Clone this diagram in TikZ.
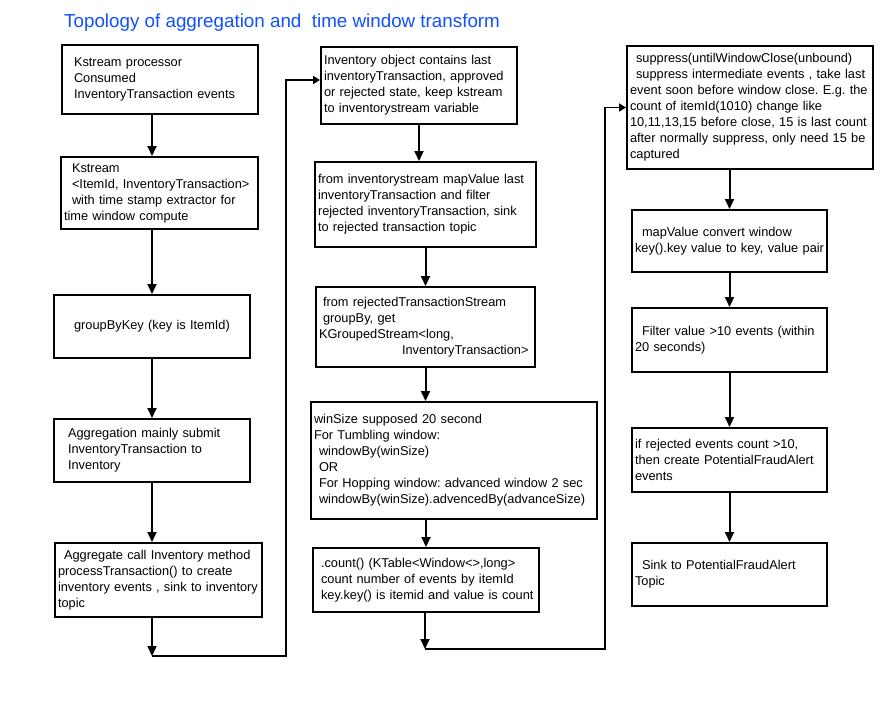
\documentclass[tikz,border=0pt]{standalone}
\usepackage{fontspec}
\setmainfont{Liberation Sans}
\usetikzlibrary{arrows.meta}
\definecolor{titleblue}{RGB}{16,80,255}
\newcommand{\ind}[1]{\hspace*{#1pt}}
\frenchspacing

\begin{document}
\begin{tikzpicture}[x=1pt,y=-1pt,
  box/.style 2 args={draw,line width=2pt,align=left,inner xsep=3pt,inner ysep=0pt,
    text width=#1pt,minimum height=#2pt,font=\fontsize{12.8}{16}\selectfont},
  arr/.style={line width=2pt,-{Triangle[length=10pt,width=9pt]}},
  link/.style={line width=1.8pt,-{Triangle[length=7pt,width=8pt]}}]
\useasboundingbox (0,0) rectangle (887,725);

\node[anchor=base west,inner sep=0pt,text=titleblue,font=\fontsize{18.8}{22}\selectfont] (title) at (64,28)
  {Topology of aggregation and~ time window transform};

% first column
\node[box={190}{69}] (A) at (160,79.5) {\ind{9}Kstream processor\\ \ind{9}Consumed\\ \ind{9}InventoryTransaction events};
\node[box={191}{72}] (B) at (159.5,193) {\ind{8}Kstream\\ \ind{8}<ItemId, InventoryTransaction>\\ \ind{8}with time stamp extractor for\\ time window compute};
\node[box={190}{63},align=center] (C) at (152,326.5) {groupByKey (key is ItemId)};
\node[box={190}{63}] (D) at (152,450.5) {\ind{11}Aggregation mainly submit\\ \ind{11}InventoryTransaction to\\ \ind{11}Inventory};
\node[box={201}{74}] (E) at (158.5,580) {\ind{6}Aggregate call Inventory method\\ processTransaction() to create\\ inventory events , sink to inventory\\ topic};

% second column
\node[box={190}{77}] (F) at (419,85.5) {Inventory object contains last\\ inventoryTransaction, approved\\ or rejected state, keep kstream\\ to inventorystream variable};
\node[box={215}{85}] (G) at (425.5,204.5) {from inventorystream mapValue last\\ inventoryTransaction and filter\\ rejected inventoryTransaction, sink\\ to rejected transaction topic};
\node[box={213}{80}] (H) at (425.5,327) {\ind{4}from rejectedTransactionStream\\ \ind{4}groupBy, get\\ KGroupedStream<long,\\ \ind{83}InventoryTransaction>};
\node[box={280}{117}] (I) at (454,460.5) {winSize supposed 20 second\\ For Tumbling window:\\ \ind{5}windowBy(winSize)\\ \ind{5}OR\\ \ind{5}For Hopping window: advanced window 2 sec\\ \ind{5}windowBy(winSize).advencedBy(advanceSize)};
\node[box={220}{64}] (J) at (426,580) {\ind{5}.count() (KTable<Window<>,long>\\ \ind{5}count number of events by itemId\\ \ind{5}key.key() is itemid and value is count};

% third column
\node[box={240}{123}] (K) at (750,107.5) {\ind{6}suppress(untilWindowClose(unbound)\\ \ind{6}suppress intermediate events , take last\\ event soon before window close. E.g. the\\ count of itemId(1010) change like\\ 10,11,13,15 before close, 15 is last count\\ after normally suppress, only need 15 be\\ captured};
\node[box={189}{62}] (L) at (729.5,241) {\ind{7}mapValue convert window\\ key().key value to key, value pair};
\node[box={189}{64}] (M) at (729.5,340) {\ind{7}Filter value >10 events (within\\ 20 seconds)};
\node[box={189}{64}] (N) at (729.5,460) {if rejected events count >10,\\ then create PotentialFraudAlert\\ events};
\node[box={189}{63}] (O) at (729.5,574.5) {\ind{7}Sink to PotentialFraudAlert\\ Topic};

\coordinate (e1) at (152,656);
\coordinate (e2) at (286,656);
\coordinate (j1) at (425,649);
\coordinate (j2) at (605,649);

\draw[arr] (A.south -| C) -- (B.north -| C);
\draw[arr] (B.south -| C) -- (C.north);
\draw[arr] (C) -- (D);
\draw[arr] (D.south) -- (D.south |- E.north);
\draw[arr] (E.south -| D) -- (e1);
\draw[link] (e1) -- (e2) |- ([yshift=5.5pt]F.west);

\draw[arr] (F.south) -- (F.south |- G.north);
\draw[arr] (G) -- (H);
\draw[arr] (H.south) -- (H.south |- I.north);
\draw[arr] (I.south -| J) -- (J.north);
\draw[arr] (J.south -| j1) -- (j1);
\draw[link] (j1) -- (j2) |- (K.west);

\draw[arr] (K.south -| L) -- (L.north);
\draw[arr] (L) -- (M);
\draw[arr] (M) -- (N);
\draw[arr] (N) -- (O);
\end{tikzpicture}
\end{document}
